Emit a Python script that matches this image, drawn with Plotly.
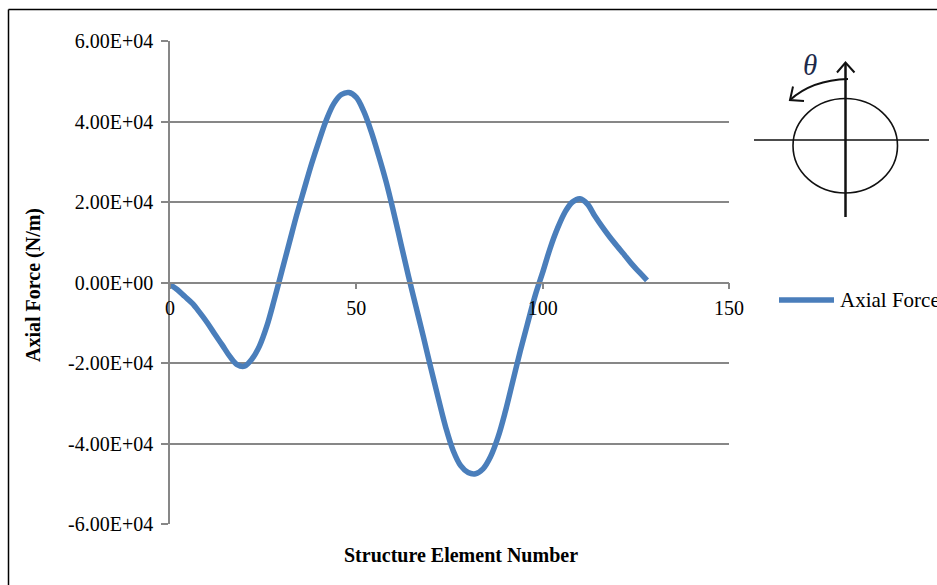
import plotly.graph_objects as go

# Axial force along the structure elements
element = list(range(0, 129, 2))
axial_force = [-500, -1800, -3500, -5200, -7500, -10000, -12800, -15500, -18300,
               -20400, -20800, -19000, -15800, -10800, -4200, 2800, 9800,
               16800, 23200, 29500, 35200, 40500, 44500, 46700, 47200, 46000,
               42500, 37500, 31500, 25000, 17500, 9500, 1500, -6000, -13500,
               -21300, -28800, -36000, -41800, -45500, -47200, -47500, -46300,
               -43300, -38500, -32000, -24500, -17000, -10000, -3200, 2500,
               8500, 13500, 17500, 20000, 20800, 19500, 16500, 13800, 11300,
               9000, 6800, 4500, 2500, 500]

y_tick_vals = [-60000, -40000, -20000, 0, 20000, 40000, 60000]
y_tick_text = ["-6.00E+04", "-4.00E+04", "-2.00E+04", "0.00E+00",
               "2.00E+04", "4.00E+04", "6.00E+04"]
x_tick_vals = [0, 50, 100, 150]

series_name = "Axial Force"
x_title = "Structure Element Number"
y_title = "Axial Force (N/m)"

W, H = 937, 585
PL, PR, PT, PB = 170, 729, 41, 524
BLUE = "#4a7ebb"
GRID = "#878787"
FONT = "Liberation Serif, Times New Roman, serif"


def px(x):
    return (x - PL) / (PR - PL)


def py(y):
    return (PB - y) / (PB - PT)


def path(points, closed=False):
    s = "M " + " L ".join(f"{px(x):.5f},{py(y):.5f}" for x, y in points)
    return s + (" Z" if closed else "")


fig = go.Figure()
fig.add_trace(go.Scatter(
    x=element, y=axial_force, mode="lines", name=series_name,
    line=dict(color=BLUE, width=5.5, shape="spline", smoothing=1.0),
    showlegend=False,
))

fig.update_layout(
    width=W, height=H,
    margin=dict(l=PL, r=W - PR, t=PT, b=H - PB, pad=0),
    paper_bgcolor="white", plot_bgcolor="white",
    font=dict(family=FONT, size=20, color="black"),
    xaxis=dict(
        range=[0, 150], tickvals=x_tick_vals, anchor="free", position=0.5,
        showgrid=False, zeroline=False, showline=True, linecolor=GRID,
        linewidth=1.5, ticks="outside", ticklen=6, tickcolor=GRID,
        tickwidth=1.5, tickfont=dict(family=FONT, size=20),
        ticklabelstandoff=2,
    ),
    yaxis=dict(
        range=[-60000, 60000], tickvals=y_tick_vals, ticktext=y_tick_text,
        showgrid=True, gridcolor=GRID, gridwidth=1.5, zeroline=False,
        showline=True, linecolor=GRID, linewidth=1.5, ticks="outside",
        ticklen=7, tickcolor=GRID, tickwidth=1.5,
        tickfont=dict(family=FONT, size=20), ticklabelstandoff=4,
    ),
)

shapes = []
annotations = []

# outer frame (left and top edges)
shapes.append(dict(type="line", xref="paper", yref="paper",
                   x0=px(8.5), y0=py(9.5), x1=px(8.5), y1=py(620),
                   line=dict(color="black", width=1.5)))
shapes.append(dict(type="line", xref="paper", yref="paper",
                   x0=px(8.5), y0=py(9.5), x1=px(960), y1=py(9.5),
                   line=dict(color="black", width=1.5)))

# rotation sketch: section outline, axes and angle arrow
shapes.append(dict(type="circle", xref="paper", yref="paper",
                   x0=px(793), x1=px(897.5), y0=py(193), y1=py(98.5),
                   line=dict(color="#111111", width=1.6)))
shapes.append(dict(type="path", xref="paper", yref="paper",
                   path=path([(754, 140), (929, 140)]),
                   line=dict(color="#111111", width=1.5)))
shapes.append(dict(type="path", xref="paper", yref="paper",
                   path=path([(845.5, 63), (845.5, 217)]),
                   line=dict(color="#111111", width=2.5)))
shapes.append(dict(type="path", xref="paper", yref="paper",
                   path=path([(837, 72.5), (845.5, 62.5), (854.5, 72.5)]),
                   line=dict(color="#111111", width=2)))
arc = (f"M {px(848):.5f},{py(79):.5f} "
       f"Q {px(812):.5f},{py(80):.5f} {px(790):.5f},{py(100):.5f}")
shapes.append(dict(type="path", xref="paper", yref="paper", path=arc,
                   line=dict(color="#111111", width=2)))
shapes.append(dict(type="path", xref="paper", yref="paper",
                   path=path([(793, 86.5), (790, 100), (804, 101)]),
                   line=dict(color="#111111", width=2)))
annotations.append(dict(xref="paper", yref="paper", x=px(810), y=py(65),
                        text="<i>θ</i>", showarrow=False,
                        xanchor="center", yanchor="middle",
                        font=dict(family=FONT, size=29, color="#1c2a4a")))

# legend entry
shapes.append(dict(type="line", xref="paper", yref="paper",
                   x0=px(779), y0=py(300), x1=px(834), y1=py(300),
                   line=dict(color=BLUE, width=5.5)))
annotations.append(dict(xref="paper", yref="paper", x=px(838), y=py(300),
                        text=series_name, showarrow=False,
                        xanchor="left", yanchor="middle",
                        font=dict(family=FONT, size=21, color="black")))

# axis titles
annotations.append(dict(xref="paper", yref="paper", x=px(461), y=py(555),
                        text=f"<b>{x_title}</b>", showarrow=False,
                        xanchor="center", yanchor="middle",
                        font=dict(family=FONT, size=20, color="black")))
annotations.append(dict(xref="paper", yref="paper", x=px(33), y=py(285),
                        text=f"<b>{y_title}</b>", showarrow=False,
                        textangle=-90, xanchor="center", yanchor="middle",
                        font=dict(family=FONT, size=20, color="black")))

fig.update_layout(shapes=shapes, annotations=annotations)

fig.write_html("out.html")
